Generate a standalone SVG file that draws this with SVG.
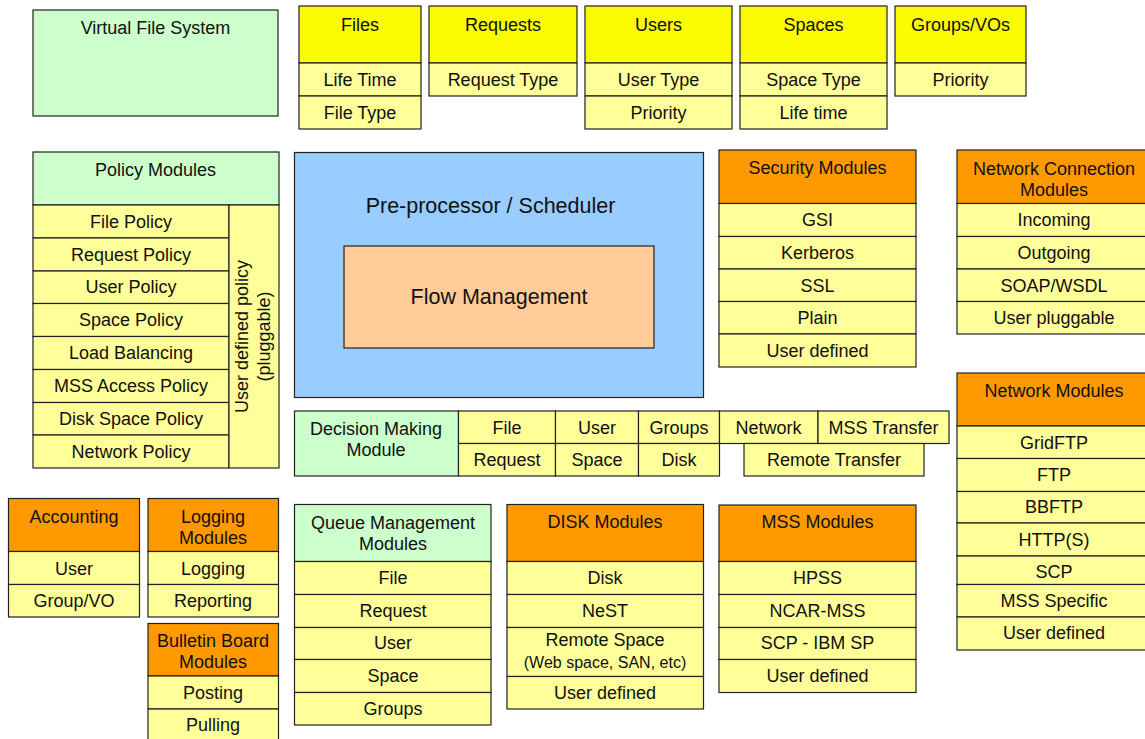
<svg xmlns="http://www.w3.org/2000/svg" width="1145" height="739" viewBox="0 0 1145 739">
  <style>
    g rect { stroke: #222; stroke-width: 1.2; }
    .grn { fill: #CCFFCC; }
    .ylw { fill: #FAFA00; }
    .row { fill: #FFFF99; }
    .org { fill: #FF9900; }
    .blu { fill: #99CCFF; }
    .pch { fill: #FFCC99; }
    text { font-family: "Liberation Sans", Arial, sans-serif; font-size: 18px; fill: #111; text-anchor: middle; }
    .big { font-size: 21.5px; }
    .small { font-size: 16px; }
  </style>
  <rect x="0" y="0" width="1145" height="739" fill="#fff"/>

  <!-- top row -->
  <g id="vfs">
    <rect class="grn" x="33" y="10" width="245" height="106"/>
    <text x="155.5" y="34">Virtual File System</text>
  </g>
  <g id="files">
    <rect class="ylw" x="299" y="6" width="122" height="57"/>
    <rect class="row" x="299" y="63" width="122" height="33"/>
    <rect class="row" x="299" y="96" width="122" height="33"/>
    <text x="360" y="31">Files</text>
    <text x="360" y="86">Life Time</text>
    <text x="360" y="119">File Type</text>
  </g>
  <g id="requests">
    <rect class="ylw" x="429" y="6" width="148" height="57"/>
    <rect class="row" x="429" y="63" width="148" height="33"/>
    <text x="503" y="31">Requests</text>
    <text x="503" y="86">Request Type</text>
  </g>
  <g id="users">
    <rect class="ylw" x="585" y="6" width="147" height="57"/>
    <rect class="row" x="585" y="63" width="147" height="33"/>
    <rect class="row" x="585" y="96" width="147" height="33"/>
    <text x="658.5" y="31">Users</text>
    <text x="658.5" y="86">User Type</text>
    <text x="658.5" y="119">Priority</text>
  </g>
  <g id="spaces">
    <rect class="ylw" x="740" y="6" width="147" height="57"/>
    <rect class="row" x="740" y="63" width="147" height="33"/>
    <rect class="row" x="740" y="96" width="147" height="33"/>
    <text x="813.5" y="31">Spaces</text>
    <text x="813.5" y="86">Space Type</text>
    <text x="813.5" y="119">Life time</text>
  </g>
  <g id="groups">
    <rect class="ylw" x="895" y="6" width="131" height="57"/>
    <rect class="row" x="895" y="63" width="131" height="33"/>
    <text x="960.5" y="31">Groups/VOs</text>
    <text x="960.5" y="86">Priority</text>
  </g>

  <!-- policy modules -->
  <g id="policy">
    <rect class="grn" x="33" y="152" width="246" height="53"/>
    <rect class="row" x="33" y="205" width="196" height="33"/>
    <rect class="row" x="33" y="238" width="196" height="33"/>
    <rect class="row" x="33" y="271" width="196" height="32.5"/>
    <rect class="row" x="33" y="303.5" width="196" height="33"/>
    <rect class="row" x="33" y="336.5" width="196" height="33"/>
    <rect class="row" x="33" y="369.5" width="196" height="33"/>
    <rect class="row" x="33" y="402.5" width="196" height="32.5"/>
    <rect class="row" x="33" y="435" width="196" height="33"/>
    <rect class="row" x="229" y="205" width="50" height="263"/>
    <text x="155.5" y="175.5">Policy Modules</text>
    <text x="131" y="227.5">File Policy</text>
    <text x="131" y="260.5">Request Policy</text>
    <text x="131" y="293">User Policy</text>
    <text x="131" y="326">Space Policy</text>
    <text x="131" y="359">Load Balancing</text>
    <text x="131" y="392">MSS Access Policy</text>
    <text x="131" y="424.5">Disk Space Policy</text>
    <text x="131" y="457.5">Network Policy</text>
    <text transform="translate(248,336.5) rotate(-90)">User defined policy</text>
    <text transform="translate(269.5,336.5) rotate(-90)">(pluggable)</text>
  </g>

  <!-- scheduler -->
  <g id="scheduler">
    <rect class="blu" x="294.5" y="152.5" width="409" height="245"/>
    <text class="big" x="490.5" y="213">Pre-processor / Scheduler</text>
  </g>
  <g id="flow">
    <rect class="pch" x="344" y="246" width="310" height="102"/>
    <text class="big" x="499" y="303.5">Flow Management</text>
  </g>

  <!-- security modules -->
  <g id="security">
    <rect class="org" x="719" y="150" width="197" height="53.5"/>
    <rect class="row" x="719" y="203.5" width="197" height="33"/>
    <rect class="row" x="719" y="236.5" width="197" height="32.5"/>
    <rect class="row" x="719" y="269" width="197" height="32.5"/>
    <rect class="row" x="719" y="301.5" width="197" height="32.5"/>
    <rect class="row" x="719" y="334" width="197" height="33"/>
    <text x="817.5" y="173.5">Security Modules</text>
    <text x="817.5" y="226">GSI</text>
    <text x="817.5" y="259">Kerberos</text>
    <text x="817.5" y="291.5">SSL</text>
    <text x="817.5" y="324">Plain</text>
    <text x="817.5" y="356.5">User defined</text>
  </g>

  <!-- network connection modules -->
  <g id="netconn">
    <rect class="org" x="957" y="150" width="194" height="53.5"/>
    <rect class="row" x="957" y="203.5" width="194" height="33"/>
    <rect class="row" x="957" y="236.5" width="194" height="32.5"/>
    <rect class="row" x="957" y="269" width="194" height="32.5"/>
    <rect class="row" x="957" y="301.5" width="194" height="32.5"/>
    <text x="1054" y="175">Network Connection</text>
    <text x="1054" y="196">Modules</text>
    <text x="1054" y="226">Incoming</text>
    <text x="1054" y="259">Outgoing</text>
    <text x="1054" y="291.5">SOAP/WSDL</text>
    <text x="1054" y="324">User pluggable</text>
  </g>

  <!-- network modules -->
  <g id="network">
    <rect class="org" x="957" y="373" width="194" height="53"/>
    <rect class="row" x="957" y="426" width="194" height="32.5"/>
    <rect class="row" x="957" y="458.5" width="194" height="33"/>
    <rect class="row" x="957" y="491.5" width="194" height="31.5"/>
    <rect class="row" x="957" y="523" width="194" height="33"/>
    <rect class="row" x="957" y="556" width="194" height="28.5"/>
    <rect class="row" x="957" y="584.5" width="194" height="32.5"/>
    <rect class="row" x="957" y="617" width="194" height="33"/>
    <text x="1054" y="397">Network Modules</text>
    <text x="1054" y="448.5">GridFTP</text>
    <text x="1054" y="481">FTP</text>
    <text x="1054" y="513">BBFTP</text>
    <text x="1054" y="545.5">HTTP(S)</text>
    <text x="1054" y="578">SCP</text>
    <text x="1054" y="606.5">MSS Specific</text>
    <text x="1054" y="639">User defined</text>
  </g>

  <!-- decision making -->
  <g id="decision">
    <rect class="grn" x="294.5" y="411" width="164" height="65"/>
    <rect class="row" x="458.5" y="411" width="97" height="32.5"/>
    <rect class="row" x="555.5" y="411" width="83" height="32.5"/>
    <rect class="row" x="638.5" y="411" width="81" height="32.5"/>
    <rect class="row" x="719.5" y="411" width="98.5" height="32.5"/>
    <rect class="row" x="818" y="411" width="131" height="32.5"/>
    <rect class="row" x="458.5" y="443.5" width="97" height="32.5"/>
    <rect class="row" x="555.5" y="443.5" width="83" height="32.5"/>
    <rect class="row" x="638.5" y="443.5" width="81" height="32.5"/>
    <rect class="row" x="744" y="443.5" width="180" height="32.5"/>
    <text x="376" y="435">Decision Making</text>
    <text x="376" y="455.5">Module</text>
    <text x="507" y="433.5">File</text>
    <text x="597" y="433.5">User</text>
    <text x="679" y="433.5">Groups</text>
    <text x="768.5" y="433.5">Network</text>
    <text x="883.5" y="433.5">MSS Transfer</text>
    <text x="507" y="466">Request</text>
    <text x="597" y="466">Space</text>
    <text x="679" y="466">Disk</text>
    <text x="834" y="466">Remote Transfer</text>
  </g>

  <!-- bottom left -->
  <g id="accounting">
    <rect class="org" x="8.5" y="498.5" width="131" height="53"/>
    <rect class="row" x="8.5" y="551.5" width="131" height="33"/>
    <rect class="row" x="8.5" y="584.5" width="131" height="32.5"/>
    <text x="74" y="522.5">Accounting</text>
    <text x="74" y="574.5">User</text>
    <text x="74" y="607">Group/VO</text>
  </g>
  <g id="logging">
    <rect class="org" x="148" y="498.5" width="130.5" height="53"/>
    <rect class="row" x="148" y="551.5" width="130.5" height="33"/>
    <rect class="row" x="148" y="584.5" width="130.5" height="32.5"/>
    <text x="213" y="523">Logging</text>
    <text x="213" y="543.5">Modules</text>
    <text x="213" y="574.5">Logging</text>
    <text x="213" y="607">Reporting</text>
  </g>
  <g id="bulletin">
    <rect class="org" x="148" y="623.5" width="130.5" height="52.5"/>
    <rect class="row" x="148" y="676" width="130.5" height="33"/>
    <rect class="row" x="148" y="709" width="130.5" height="40"/>
    <text x="213" y="647">Bulletin Board</text>
    <text x="213" y="668">Modules</text>
    <text x="213" y="699">Posting</text>
    <text x="213" y="731">Pulling</text>
  </g>

  <!-- queue management -->
  <g id="queue">
    <rect class="grn" x="294.5" y="504.5" width="196.5" height="57"/>
    <rect class="row" x="294.5" y="561.5" width="196.5" height="33"/>
    <rect class="row" x="294.5" y="594.5" width="196.5" height="33"/>
    <rect class="row" x="294.5" y="627.5" width="196.5" height="32"/>
    <rect class="row" x="294.5" y="659.5" width="196.5" height="33"/>
    <rect class="row" x="294.5" y="692.5" width="196.5" height="32.5"/>
    <text x="393" y="528.5">Queue Management</text>
    <text x="393" y="549.5">Modules</text>
    <text x="393" y="584">File</text>
    <text x="393" y="617">Request</text>
    <text x="393" y="649">User</text>
    <text x="393" y="682">Space</text>
    <text x="393" y="714.5">Groups</text>
  </g>

  <!-- disk modules -->
  <g id="disk">
    <rect class="org" x="507" y="504.5" width="196.5" height="57"/>
    <rect class="row" x="507" y="561.5" width="196.5" height="33"/>
    <rect class="row" x="507" y="594.5" width="196.5" height="33"/>
    <rect class="row" x="507" y="627.5" width="196.5" height="49"/>
    <rect class="row" x="507" y="676.5" width="196.5" height="32.5"/>
    <text x="605" y="527.5">DISK Modules</text>
    <text x="605" y="584">Disk</text>
    <text x="605" y="617">NeST</text>
    <text x="605" y="646">Remote Space</text>
    <text class="small" x="605" y="668">(Web space, SAN, etc)</text>
    <text x="605" y="698.5">User defined</text>
  </g>

  <!-- mss modules -->
  <g id="mss">
    <rect class="org" x="719" y="505" width="197" height="56.5"/>
    <rect class="row" x="719" y="561.5" width="197" height="33"/>
    <rect class="row" x="719" y="594.5" width="197" height="33"/>
    <rect class="row" x="719" y="627.5" width="197" height="32"/>
    <rect class="row" x="719" y="659.5" width="197" height="33"/>
    <text x="817.5" y="528">MSS Modules</text>
    <text x="817.5" y="584">HPSS</text>
    <text x="817.5" y="617">NCAR-MSS</text>
    <text x="817.5" y="649">SCP - IBM SP</text>
    <text x="817.5" y="682">User defined</text>
  </g>

  <!-- no connectors in this layout -->
  <g id="connectors"/>
</svg>
